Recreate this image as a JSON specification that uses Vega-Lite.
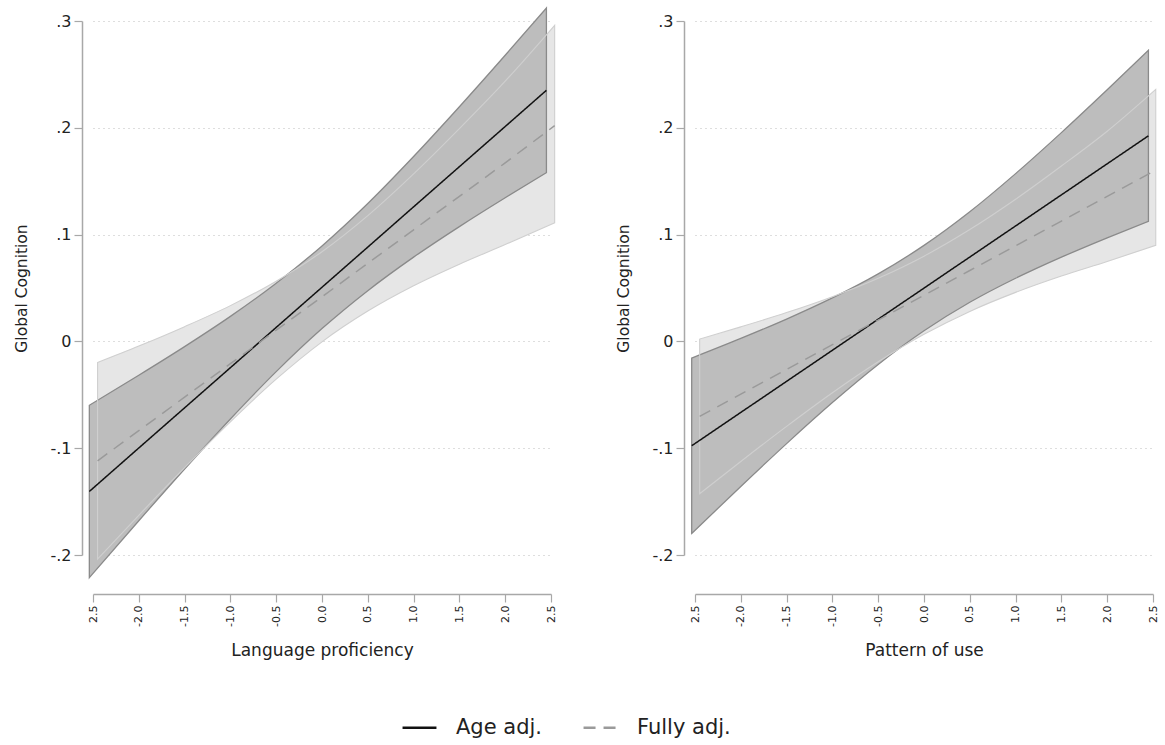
{
  "$schema": "https://vega.github.io/schema/vega-lite/v6.json",
  "padding": {"left": 14, "top": 5, "right": 5, "bottom": 5},
  "background": "white",
  "config": {
    "font": "DejaVu Sans",
    "view": {"stroke": null},
    "axis": {
      "domainColor": "#a8a8a8", "domainWidth": 1.5, "tickColor": "#a8a8a8", "tickWidth": 1.2, "tickSize": 8,
      "labelColor": "#222222", "titleColor": "#222222", "titleFontWeight": "normal", "labelPadding": 3
    },
    "legend": {
      "orient": "none", "legendX": 308, "legendY": 688, "direction": "horizontal", "title": null, "labelFontSize": 21, "labelColor": "#222222",
      "symbolType": "stroke", "symbolSize": 1150, "symbolStrokeWidth": 2.5, "columnPadding": 36, "labelOffset": 18
    }
  },
  "datasets": {
    "rows": [
      {"p": "L", "m": "Age adj.", "x": -2.54, "fit": -0.1405, "lo": -0.2212, "hi": -0.0598},
      {"p": "L", "m": "Age adj.", "x": -2.0, "fit": -0.0998, "lo": -0.1679, "hi": -0.0317},
      {"p": "L", "m": "Age adj.", "x": -1.5, "fit": -0.0622, "lo": -0.1195, "hi": -0.0049},
      {"p": "L", "m": "Age adj.", "x": -1.0, "fit": -0.0246, "lo": -0.0726, "hi": 0.0234},
      {"p": "L", "m": "Age adj.", "x": -0.5, "fit": 0.0131, "lo": -0.0283, "hi": 0.0545},
      {"p": "L", "m": "Age adj.", "x": 0.0, "fit": 0.0507, "lo": 0.0120, "hi": 0.0894},
      {"p": "L", "m": "Age adj.", "x": 0.5, "fit": 0.0883, "lo": 0.0475, "hi": 0.1291},
      {"p": "L", "m": "Age adj.", "x": 1.0, "fit": 0.1260, "lo": 0.0789, "hi": 0.1731},
      {"p": "L", "m": "Age adj.", "x": 1.5, "fit": 0.1636, "lo": 0.1075, "hi": 0.2197},
      {"p": "L", "m": "Age adj.", "x": 2.0, "fit": 0.2012, "lo": 0.1345, "hi": 0.2679},
      {"p": "L", "m": "Age adj.", "x": 2.45, "fit": 0.2351, "lo": 0.1580, "hi": 0.3122},
      {"p": "L", "m": "Fully adj.", "x": -2.45, "fit": -0.1118, "lo": -0.2038, "hi": -0.0198},
      {"p": "L", "m": "Fully adj.", "x": -2.0, "fit": -0.0836, "lo": -0.1628, "hi": -0.0044},
      {"p": "L", "m": "Fully adj.", "x": -1.5, "fit": -0.0522, "lo": -0.1182, "hi": 0.0138},
      {"p": "L", "m": "Fully adj.", "x": -1.0, "fit": -0.0209, "lo": -0.0753, "hi": 0.0335},
      {"p": "L", "m": "Fully adj.", "x": -0.5, "fit": 0.0105, "lo": -0.0354, "hi": 0.0564},
      {"p": "L", "m": "Fully adj.", "x": 0.0, "fit": 0.0418, "lo": -0.0004, "hi": 0.0840},
      {"p": "L", "m": "Fully adj.", "x": 0.5, "fit": 0.0731, "lo": 0.0284, "hi": 0.1178},
      {"p": "L", "m": "Fully adj.", "x": 1.0, "fit": 0.1045, "lo": 0.0521, "hi": 0.1569},
      {"p": "L", "m": "Fully adj.", "x": 1.5, "fit": 0.1358, "lo": 0.0723, "hi": 0.1993},
      {"p": "L", "m": "Fully adj.", "x": 2.0, "fit": 0.1672, "lo": 0.0907, "hi": 0.2437},
      {"p": "L", "m": "Fully adj.", "x": 2.54, "fit": 0.2020, "lo": 0.1110, "hi": 0.2960},
      {"p": "R", "m": "Age adj.", "x": -2.536, "fit": -0.0977, "lo": -0.1798, "hi": -0.0156},
      {"p": "R", "m": "Age adj.", "x": -2.0, "fit": -0.0665, "lo": -0.1358, "hi": 0.0028},
      {"p": "R", "m": "Age adj.", "x": -1.5, "fit": -0.0374, "lo": -0.0957, "hi": 0.0209},
      {"p": "R", "m": "Age adj.", "x": -1.0, "fit": -0.0083, "lo": -0.0573, "hi": 0.0407},
      {"p": "R", "m": "Age adj.", "x": -0.5, "fit": 0.0208, "lo": -0.0216, "hi": 0.0632},
      {"p": "R", "m": "Age adj.", "x": 0.0, "fit": 0.0499, "lo": 0.0099, "hi": 0.0899},
      {"p": "R", "m": "Age adj.", "x": 0.5, "fit": 0.0790, "lo": 0.0366, "hi": 0.1214},
      {"p": "R", "m": "Age adj.", "x": 1.0, "fit": 0.1081, "lo": 0.0591, "hi": 0.1571},
      {"p": "R", "m": "Age adj.", "x": 1.5, "fit": 0.1372, "lo": 0.0789, "hi": 0.1955},
      {"p": "R", "m": "Age adj.", "x": 2.0, "fit": 0.1663, "lo": 0.0970, "hi": 0.2356},
      {"p": "R", "m": "Age adj.", "x": 2.45, "fit": 0.1925, "lo": 0.1125, "hi": 0.2725},
      {"p": "R", "m": "Fully adj.", "x": -2.449, "fit": -0.0702, "lo": -0.1426, "hi": 0.0022},
      {"p": "R", "m": "Fully adj.", "x": -2.0, "fit": -0.0494, "lo": -0.1124, "hi": 0.0136},
      {"p": "R", "m": "Fully adj.", "x": -1.5, "fit": -0.0263, "lo": -0.0796, "hi": 0.0270},
      {"p": "R", "m": "Fully adj.", "x": -1.0, "fit": -0.0031, "lo": -0.0481, "hi": 0.0419},
      {"p": "R", "m": "Fully adj.", "x": -0.5, "fit": 0.0200, "lo": -0.0191, "hi": 0.0591},
      {"p": "R", "m": "Fully adj.", "x": 0.0, "fit": 0.0432, "lo": 0.0066, "hi": 0.0798},
      {"p": "R", "m": "Fully adj.", "x": 0.5, "fit": 0.0664, "lo": 0.0281, "hi": 0.1047},
      {"p": "R", "m": "Fully adj.", "x": 1.0, "fit": 0.0895, "lo": 0.0459, "hi": 0.1331},
      {"p": "R", "m": "Fully adj.", "x": 1.5, "fit": 0.1127, "lo": 0.0612, "hi": 0.1642},
      {"p": "R", "m": "Fully adj.", "x": 2.0, "fit": 0.1358, "lo": 0.0748, "hi": 0.1968},
      {"p": "R", "m": "Fully adj.", "x": 2.53, "fit": 0.1604, "lo": 0.0900, "hi": 0.2360}
    ]
  },
  "spacing": 58,
  "hconcat": [
    {
      "width": 458, "height": 534,
      "data": {"name": "rows"},
      "transform": [{"filter": "datum.p == 'L'"}],
      "encoding": {
        "x": {"field": "x", "type": "quantitative", "scale": {"domain": [-2.5, 2.5], "nice": false, "zero": false},
          "axis": {"title": "Language proficiency", "titleFontSize": 17, "values": [-2.5, -2, -1.5, -1, -0.5, 0, 0.5, 1, 1.5, 2, 2.5],
            "labelExpr": "datum.value == -2.5 ? '2.5' : replace(format(datum.value, '.1f'), '\u2212', '-')",
            "labelAngle": -90, "labelFontSize": 11, "offset": 39, "grid": false, "titlePadding": 16}}
      },
      "layer": [
        {"transform": [{"filter": "datum.m == 'Fully adj.'"}], "mark": {"type": "area", "fill": "#e6e6e6", "interpolate": "monotone"},
          "encoding": {"y": {"field": "lo", "type": "quantitative", "scale": {"domain": [-0.2, 0.3], "nice": false, "zero": false},
            "axis": {"title": "Global Cognition", "titleFontSize": 15.5, "values": [-0.2, -0.1, 0, 0.1, 0.2, 0.3],
              "labelExpr": "datum.value == 0 ? '0' : replace(replace(format(datum.value, '.1f'), '0.', '.'), '\u2212', '-')",
              "labelFontSize": 16, "offset": 11, "grid": true, "gridColor": "#bdbdbd", "gridDash": [1, 4], "gridWidth": 1, "titlePadding": 20}},
            "y2": {"field": "hi"}}},
        {"transform": [{"filter": "datum.m == 'Age adj.'"}], "mark": {"type": "area", "fill": "#bdbdbd", "stroke": "#8a8a8a", "strokeWidth": 1.3, "interpolate": "monotone"},
          "encoding": {"y": {"field": "lo", "type": "quantitative", "title": "Global Cognition"}, "y2": {"field": "hi"}}},
        {"transform": [{"filter": "datum.m == 'Fully adj.'"}], "mark": {"type": "area", "fill": null, "fillOpacity": 0, "stroke": "#cfcfcf", "strokeWidth": 1.1, "interpolate": "monotone"},
          "encoding": {"y": {"field": "lo", "type": "quantitative", "title": "Global Cognition"}, "y2": {"field": "hi"}}},
        {"mark": {"type": "line", "strokeWidth": 1.5},
          "encoding": {
            "y": {"field": "fit", "type": "quantitative", "title": "Global Cognition"},
            "color": {"field": "m", "type": "nominal", "scale": {"domain": ["Age adj.", "Fully adj."], "range": ["#111111", "#9a9a9a"]}},
            "strokeDash": {"field": "m", "type": "nominal", "scale": {"domain": ["Age adj.", "Fully adj."], "range": [[1, 0], [12, 8]]}}
          }}
      ]
    },
    {
      "width": 458, "height": 534,
      "data": {"name": "rows"},
      "transform": [{"filter": "datum.p == 'R'"}],
      "encoding": {
        "x": {"field": "x", "type": "quantitative", "scale": {"domain": [-2.5, 2.5], "nice": false, "zero": false},
          "axis": {"title": "Pattern of use", "titleFontSize": 17, "values": [-2.5, -2, -1.5, -1, -0.5, 0, 0.5, 1, 1.5, 2, 2.5],
            "labelExpr": "datum.value == -2.5 ? '2.5' : replace(format(datum.value, '.1f'), '\u2212', '-')",
            "labelAngle": -90, "labelFontSize": 11, "offset": 39, "grid": false, "titlePadding": 16}}
      },
      "layer": [
        {"transform": [{"filter": "datum.m == 'Fully adj.'"}], "mark": {"type": "area", "fill": "#e6e6e6", "interpolate": "monotone"},
          "encoding": {"y": {"field": "lo", "type": "quantitative", "scale": {"domain": [-0.2, 0.3], "nice": false, "zero": false},
            "axis": {"title": "Global Cognition", "titleFontSize": 15.5, "values": [-0.2, -0.1, 0, 0.1, 0.2, 0.3],
              "labelExpr": "datum.value == 0 ? '0' : replace(replace(format(datum.value, '.1f'), '0.', '.'), '\u2212', '-')",
              "labelFontSize": 16, "offset": 11, "grid": true, "gridColor": "#bdbdbd", "gridDash": [1, 4], "gridWidth": 1, "titlePadding": 20}},
            "y2": {"field": "hi"}}},
        {"transform": [{"filter": "datum.m == 'Age adj.'"}], "mark": {"type": "area", "fill": "#bdbdbd", "stroke": "#8a8a8a", "strokeWidth": 1.3, "interpolate": "monotone"},
          "encoding": {"y": {"field": "lo", "type": "quantitative", "title": "Global Cognition"}, "y2": {"field": "hi"}}},
        {"transform": [{"filter": "datum.m == 'Fully adj.'"}], "mark": {"type": "area", "fill": null, "fillOpacity": 0, "stroke": "#cfcfcf", "strokeWidth": 1.1, "interpolate": "monotone"},
          "encoding": {"y": {"field": "lo", "type": "quantitative", "title": "Global Cognition"}, "y2": {"field": "hi"}}},
        {"mark": {"type": "line", "strokeWidth": 1.5},
          "encoding": {
            "y": {"field": "fit", "type": "quantitative", "title": "Global Cognition"},
            "color": {"field": "m", "type": "nominal", "scale": {"domain": ["Age adj.", "Fully adj."], "range": ["#111111", "#9a9a9a"]}},
            "strokeDash": {"field": "m", "type": "nominal", "scale": {"domain": ["Age adj.", "Fully adj."], "range": [[1, 0], [12, 8]]}}
          }}
      ]
    }
  ]
}
